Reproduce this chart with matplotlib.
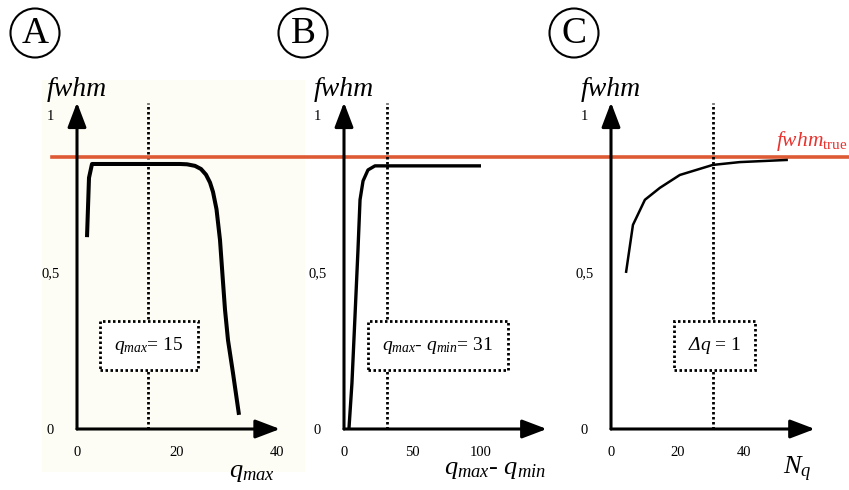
import matplotlib
matplotlib.use('Agg')
import matplotlib.pyplot as plt
from matplotlib.patches import Ellipse, Rectangle
import matplotlib.transforms as mtransforms

plt.rcParams['font.family'] = ['Liberation Serif', 'DejaVu Serif']
plt.rcParams['mathtext.fontset'] = 'custom'
plt.rcParams['mathtext.rm'] = 'Liberation Serif'
plt.rcParams['mathtext.it'] = 'Liberation Serif:italic'
plt.rcParams['mathtext.sf'] = 'Liberation Serif:italic'
plt.rcParams['mathtext.bf'] = 'Liberation Serif:bold'

# ---------------- data ----------------
fwhm_true = 0.866

a_x = [2.0, 2.4, 3.0, 20.6, 22.0, 23.6, 24.8, 25.8, 26.6, 27.2, 27.9, 28.6, 29.1, 29.6, 30.2, 31.2, 32.4]
a_y = [0.611, 0.80, 0.844, 0.844, 0.843, 0.838, 0.828, 0.810, 0.785, 0.755, 0.70, 0.602, 0.49, 0.38, 0.283, 0.178, 0.045]

b_x = [3.6, 5.8, 8.0, 10.2, 11.7, 13.9, 17.5, 22.6, 100]
b_y = [0.0, 0.146, 0.357, 0.57, 0.73, 0.79, 0.825, 0.838, 0.838]

c_x = [4.5, 6.6, 10.2, 14.7, 20.7, 30.6, 38.7, 53.2]
c_y = [0.497, 0.65, 0.73, 0.768, 0.809, 0.841, 0.850, 0.857]

panel_letters = ['A', 'B', 'C']
opt_values = [14.2, 31.4, 30.6]
box_texts = [r'$q_{max}$= 15', r'$q_{max}$- $q_{min}$= 31', r'$\mathsf{\Delta}q$ = 1']
x_labels = [r'$q_{max}$', r'$q_{max}$- $q_{min}$', r'$N_q$']
x_ticks = [[0, 20, 40], [0, 50, 100], [0, 20, 40]]
y_ticks = [0, 0.5, 1]
y_ticklabels = ['0', '0,5', '1']
x_lims = [(0, 40), (0, 100), (0, 40)]
x_arrow_end = [40.6, 148, 61.3]
box_x = [14.4, 68.6, 31.2]
xlabel_pos = [(35, -0.14), (110, -0.13), (56, -0.13)]
curves = [(a_x, a_y, 2.9), (b_x, b_y, 2.4), (c_x, c_y, 1.8)]

# ---------------- figure ----------------
W, H = 849, 490
fig = plt.figure(figsize=(W / 100, H / 100), dpi=100)

# light background behind panel A
fig.patches.append(Rectangle((42 / W, 1 - 472 / H), (305 - 42) / W, (472 - 80) / H,
                             transform=fig.transFigure, facecolor='#fdfdf5',
                             edgecolor='none', zorder=-10))

lefts = [77, 344, 611]
widths = [200, 137, 133]
bottom = (H - 429) / H
height = 314 / H
axes = []
for i in range(3):
    ax = fig.add_axes([lefts[i] / W, bottom, widths[i] / W, height])
    ax.set_zorder(1)
    ax.patch.set_visible(False)
    for s in ax.spines.values():
        s.set_visible(False)
    ax.set_xlim(*x_lims[i])
    ax.set_ylim(0, 1)
    ax.set_xticks(x_ticks[i])
    ax.set_xticklabels([str(t) for t in x_ticks[i]], fontsize=10.5)
    ax.set_yticks(y_ticks)
    ax.set_yticklabels(y_ticklabels, fontsize=10.5)
    for lab in ax.get_yticklabels():
        lab.set_ha('center')
    ax.tick_params(axis='x', length=0, pad=12)
    ax.tick_params(axis='y', length=0, pad=19)

    # axes arrows
    arrow = dict(arrowstyle='-|>,head_length=1.0,head_width=0.38', color='black',
                 lw=2.2, mutation_scale=15, shrinkA=0, shrinkB=0)
    ax.annotate('', xy=(x_arrow_end[i], 0), xytext=(0, 0), arrowprops=arrow,
                annotation_clip=False, zorder=5)
    ax.annotate('', xy=(0, 1.04), xytext=(0, 0), arrowprops=arrow,
                annotation_clip=False, zorder=5)

    # dotted vertical line
    ax.plot([opt_values[i], opt_values[i]], [0, 1.038], color='black', lw=2.0,
            ls=(0, (0.9, 0.9)), clip_on=False, zorder=2)

    # curve
    cx, cy, lw = curves[i]
    ax.plot(cx, cy, color='black', lw=lw, clip_on=False, zorder=4,
            solid_joinstyle='round', solid_capstyle='butt')

    # boxed annotation
    ax.text(box_x[i], 0.267, box_texts[i], fontsize=14, ha='center', va='center',
            zorder=6,
            bbox=dict(boxstyle='square,pad=0.72', facecolor='white', edgecolor='black',
                      linestyle=(0, (0.9, 0.9)), linewidth=2.0))

    # y label
    ax.text(0, 1.08, 'fwhm', fontsize=20, style='italic', ha='center', va='center')
    # x label
    ax.text(xlabel_pos[i][0], xlabel_pos[i][1], x_labels[i], fontsize=19,
            ha='center', va='center')
    axes.append(ax)

# red true-value line across all panels
tr = mtransforms.blended_transform_factory(fig.transFigure, axes[0].transData)
axes[0].plot([52 / W, 1.0], [fwhm_true, fwhm_true], color='#dd5a34', lw=2.6,
             transform=tr, clip_on=False, zorder=3)
fig.text(847 / W, (H - 146) / H, r'$fwhm_{\mathrm{true}}$', color='#e8332f',
         fontsize=15.5, ha='right', va='baseline')

# circled panel letters
centers = [35, 303, 574]
for cxp, letter in zip(centers, panel_letters):
    fig.patches.append(Ellipse((cxp / W, 1 - 33 / H), 49 / W, 49 / H,
                               transform=fig.transFigure, facecolor='none',
                               edgecolor='black', lw=1.5))
    fig.text(cxp / W, 1 - 34 / H, letter, fontsize=27, ha='center', va='center')

fig.savefig('out.png', dpi=100)
